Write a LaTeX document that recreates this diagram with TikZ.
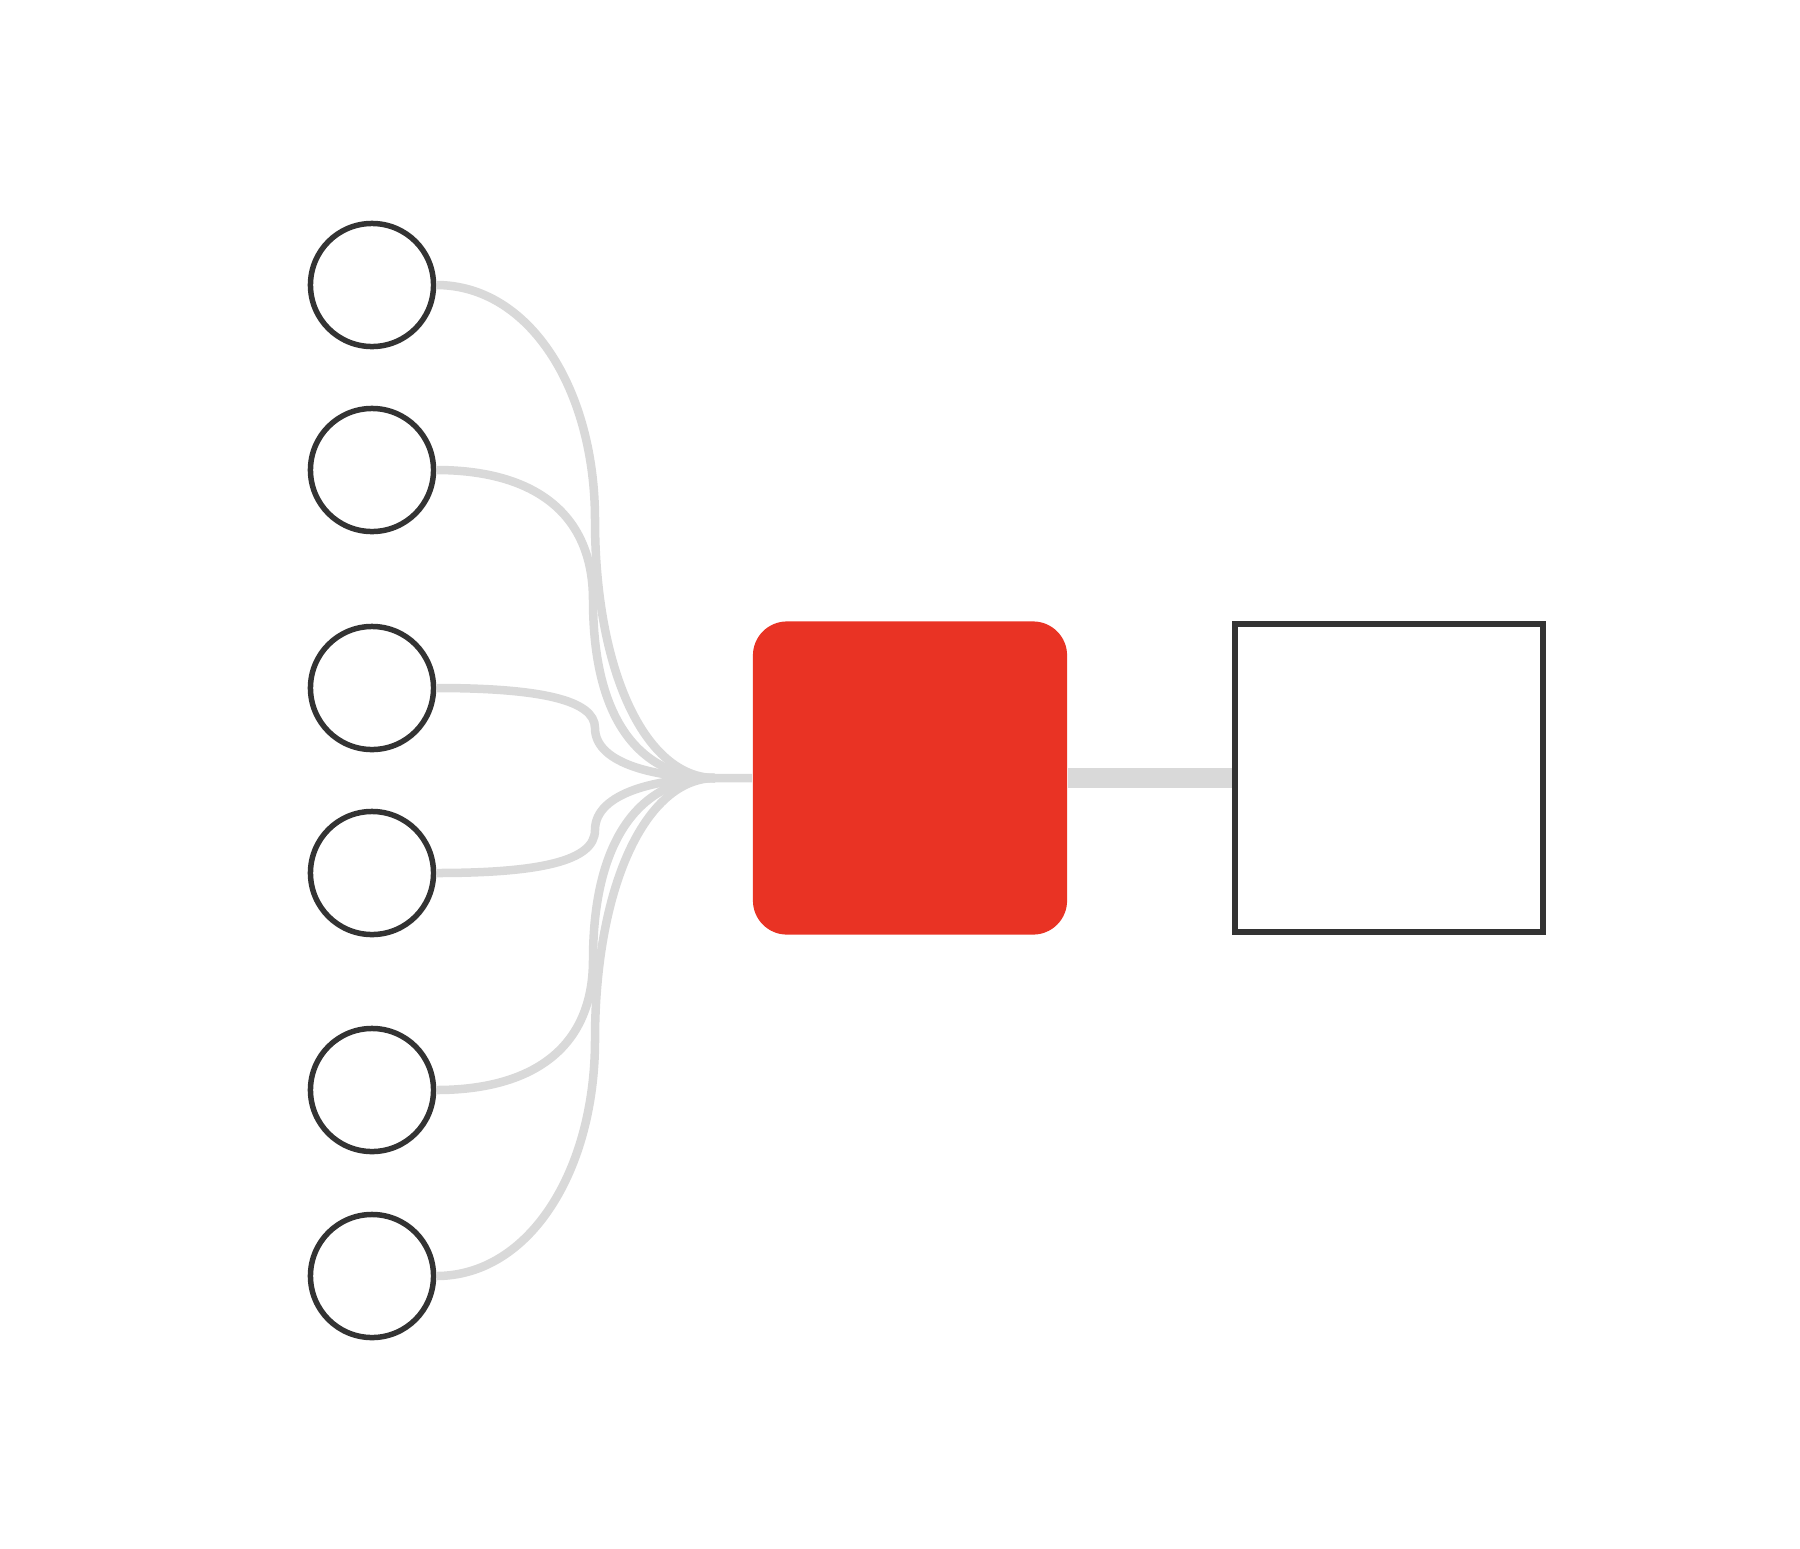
\documentclass[tikz,border=0pt]{standalone}
\usepackage{xcolor}
\usepackage{tikz}
\definecolor{ringgray}{RGB}{51,51,51}
\definecolor{wiregray}{RGB}{217,217,217}
\definecolor{hubred}{RGB}{233,51,36}
\tikzset{
  inputnode/.style={circle, draw=ringgray, line width=0.055cm, minimum size=1.23cm, inner sep=0pt},
  wire/.style={draw=wiregray, line width=0.085cm},
}
\begin{document}
\begin{tikzpicture}[x=0.01cm, y=-0.01cm]
\useasboundingbox (0,0) rectangle (1800,1548);

\node [inputnode] (c1) at (372,285) {};
\node [inputnode] (c2) at (372,470) {};
\node [inputnode] (c3) at (372,688) {};
\node [inputnode] (c4) at (372,873) {};
\node [inputnode] (c5) at (372,1090) {};
\node [inputnode] (c6) at (372,1276) {};

\node [fill=hubred, rounded corners=0.34cm, minimum width=3.14cm, minimum height=3.13cm] (red) at (910,778) {};
\node [draw=ringgray, line width=0.06cm, minimum width=3.08cm, minimum height=3.075cm] (out) at (1389,778) {};

\coordinate (hub) at (715,778);

\draw [wire] (c1.east) .. controls (530,285) and (595,390) .. (595,520) .. controls (595,670) and (645,778) .. (hub) -- (red.west);
\draw [wire] (c2.east) .. controls (530,470) and (593,510) .. (593,600) .. controls (593,720) and (640,778) .. (hub);
\draw [wire] (c3.east) .. controls (540,688) and (595,700) .. (595,728) .. controls (595,765) and (660,778) .. (hub);
\draw [wire] (c4.east) .. controls (540,873) and (595,861) .. (595,830) .. controls (595,792) and (660,778) .. (hub);
\draw [wire] (c5.east) .. controls (530,1090) and (593,1050) .. (593,960) .. controls (593,840) and (640,778) .. (hub);
\draw [wire] (c6.east) .. controls (530,1276) and (595,1170) .. (595,1040) .. controls (595,888) and (645,778) .. (hub);

\draw [wiregray, line width=0.2cm] (red.east) -- (out.west);
\end{tikzpicture}
\end{document}
